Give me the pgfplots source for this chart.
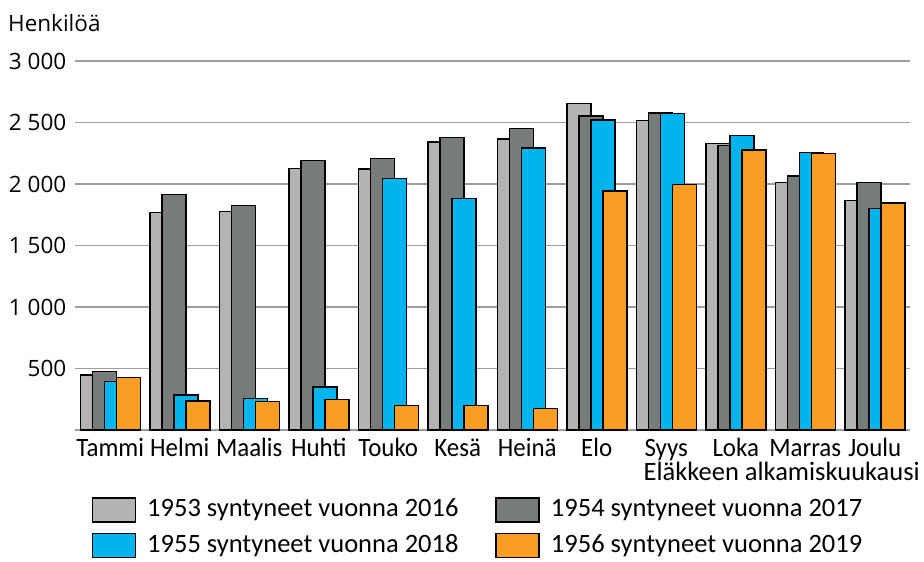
\documentclass[border=0pt]{standalone}
\usepackage{pgfplots}
\pgfplotsset{compat=1.18}
\usepackage{fontspec}
\setmainfont{Carlito}
\newfontfamily\cond[FakeStretch=0.94]{Carlito}
\newfontfamily\opensans{Open Sans}
\definecolor{lgray}{RGB}{178,179,178}
\definecolor{dgray}{RGB}{119,123,123}
\definecolor{cblue}{RGB}{0,180,238}
\definecolor{corange}{RGB}{249,157,37}
\definecolor{gridc}{RGB}{155,158,158}
\begin{document}
\fontsize{26.5}{31}\selectfont
\begin{tikzpicture}
\useasboundingbox (-75.5pt,-132pt) rectangle (848.5pt,430pt);
\begin{axis}[
  at={(0pt,0pt)}, anchor=south west,
  scale only axis, width=834pt, height=369pt,
  xmin=-0.5, xmax=11.5, ymin=0, ymax=3000,
  xtick={0,...,11},
  xticklabels={Tammi,Helmi,Maalis,Huhti,Touko,Kesä,Heinä,Elo,Syys,Loka,Marras,Joulu},
  ytick={500,1000,...,3000},
  extra y ticks={0}, extra y tick labels={},
  extra y tick style={ymajorgrids=true},
  major tick length=0pt,
  axis line style={draw=none},
  ymajorgrids,
  grid style={gridc, line width=1.5pt},
  /pgf/number format/.cd, 1000 sep={\ }, assume math mode=true, /pgfplots/.cd,
  yticklabel style={font=\opensans\fontsize{22.5}{27}\selectfont, anchor=east, inner sep=0pt, xshift=-9pt},
  xticklabel style={font=\cond\fontsize{26.5}{31}\selectfont, anchor=base, inner sep=0pt, yshift=-26pt},
  xlabel={Eläkkeen alkamiskuukausi},
  xlabel style={at={(axis description cs:1,0)}, anchor=base east, inner sep=0pt, xshift=10.5pt, yshift=-50pt, font=\fontsize{26.5}{31}\selectfont},
  ylabel={Henkilöä},
  ylabel style={rotate=-90, at={(axis description cs:0,1)}, anchor=base west, inner sep=0pt, xshift=-67.5pt, yshift=29pt, font=\opensans\fontsize{22.5}{27}\selectfont},
  bar width=0.345,
  every axis plot/.append style={ybar, draw=black, line width=1.5pt},
  legend columns=2,
  legend style={at={(axis description cs:0,0)}, anchor=north west, xshift=16pt, yshift=-67pt, draw=none, fill=none, inner sep=0pt,
    font=\fontsize{26.5}{31}\selectfont,
    nodes={inner sep=0pt},
    cells={anchor=west},
    row sep=10pt,
    /tikz/every even column/.append style={column sep=37pt}},
  legend image code/.code={\draw[#1] (0pt,-12pt) rectangle (43pt,12pt); \path (54pt,0pt);},
]
\addplot[fill=lgray, bar shift=-0.255] coordinates {(0,447) (1,1770) (2,1775) (3,2125) (4,2122) (5,2341) (6,2366) (7,2653) (8,2515) (9,2331) (10,2011) (11,1865)};
\addlegendentry{1953 syntyneet vuonna 2016}
\addplot[fill=dgray, bar shift=-0.083] coordinates {(0,477) (1,1913) (2,1824) (3,2190) (4,2209) (5,2377) (6,2453) (7,2553) (8,2577) (9,2312) (10,2063) (11,2011)};
\addlegendentry{1954 syntyneet vuonna 2017}
\addplot[fill=cblue, bar shift=0.09] coordinates {(0,393) (1,285) (2,255) (3,350) (4,2046) (5,1881) (6,2293) (7,2520) (8,2575) (9,2393) (10,2258) (11,1799)};
\addlegendentry{1955 syntyneet vuonna 2018}
\addplot[fill=corange, bar shift=0.265] coordinates {(0,425) (1,236) (2,230) (3,247) (4,198) (5,198) (6,176) (7,1943) (8,1995) (9,2277) (10,2247) (11,1846)};
\addlegendentry{1956 syntyneet vuonna 2019}
\end{axis}
\end{tikzpicture}
\end{document}
